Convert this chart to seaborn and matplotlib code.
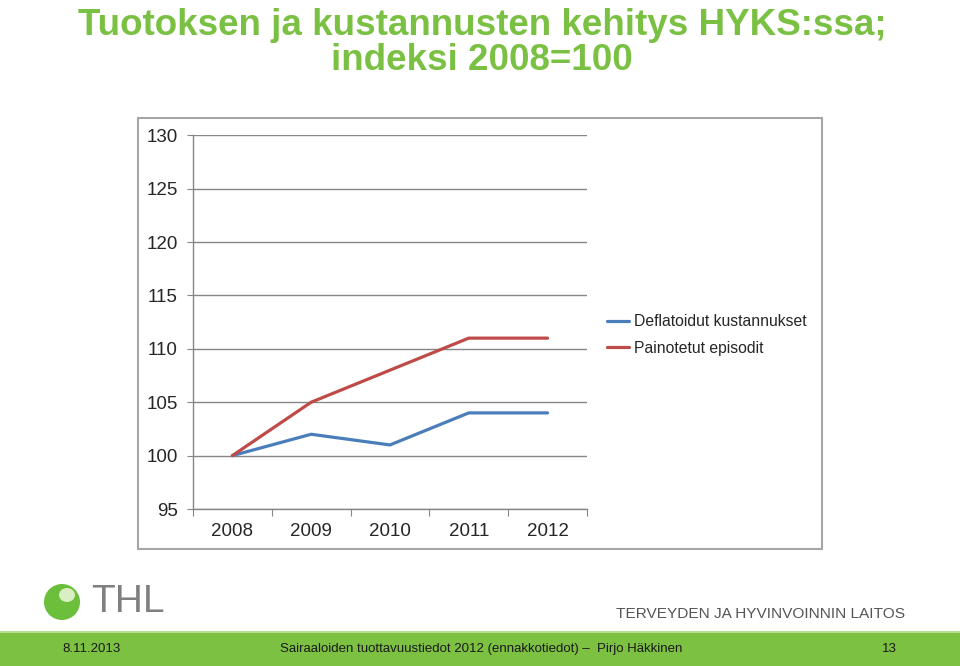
import pandas as pd
import matplotlib.pyplot as plt
import seaborn as sns
from matplotlib.patches import Rectangle, Ellipse

# Datat
vuodet = ['2008', '2009', '2010', '2011', '2012']
kustannukset = [100, 102, 101, 104, 104]
episodit = [100, 105, 108, 111, 111]
sarjat = ['Deflatoidut kustannukset', 'Painotetut episodit']
y_ticks = [95, 100, 105, 110, 115, 120, 125, 130]

df = pd.DataFrame({
    'vuosi': vuodet * 2,
    'indeksi': kustannukset + episodit,
    'sarja': [sarjat[0]] * len(vuodet) + [sarjat[1]] * len(vuodet),
})

sns.set_style('white')
plt.rcParams['font.family'] = ['Liberation Sans', 'DejaVu Sans']

vihrea = '#7ac143'
W, H = 960, 666
fig = plt.figure(figsize=(9.6, 6.66), dpi=100)
ax = fig.add_axes([0.201, 0.2357, 0.4104, 0.5613])

sns.lineplot(data=df, x='vuosi', y='indeksi', hue='sarja', sort=False,
             palette=['#4a7ebb', '#be4b48'], linewidth=2.3, ax=ax)

ax.set_xlim(-0.5, 4.5)
ax.set_ylim(95, 130)
ax.set_yticks(y_ticks)
ax.set_yticklabels([str(v) for v in y_ticks], fontsize=13.5)
ax.grid(axis='y', color='#868686', linewidth=1)
ax.set_axisbelow(True)

# x-akselin tikit luokkien rajoilla, nimet keskellä
ax.set_xticks([i - 0.5 for i in range(len(vuodet) + 1)])
ax.set_xticklabels([''] * (len(vuodet) + 1))
ax.set_xticks(range(len(vuodet)), minor=True)
ax.set_xticklabels(vuodet, minor=True, fontsize=13.5)
ax.tick_params(axis='x', which='major', length=5, color='#868686', direction='out', bottom=True)
ax.tick_params(axis='x', which='minor', length=0, pad=10)
ax.tick_params(axis='y', length=4.5, color='#868686', direction='out', left=True, pad=6.3)
ax.set_xlabel('')
ax.set_ylabel('')

for s in ['top', 'right']:
    ax.spines[s].set_visible(False)
for s in ['left', 'bottom']:
    ax.spines[s].set_color('#868686')
    ax.spines[s].set_linewidth(1)

ax.legend(loc='center left', bbox_to_anchor=(0.632, 0.497), bbox_transform=fig.transFigure,
          frameon=False, borderaxespad=0, borderpad=0, fontsize=11.3,
          handlelength=1.45, handletextpad=0.3, labelspacing=0.75)

# kaavion kehys
fig.patches.append(Rectangle((0.1437, 0.1757), 0.7126, 0.6471, transform=fig.transFigure,
                             fill=False, edgecolor='#a6a6a6', linewidth=1.5))

# otsikko
fig.text(0.502, 1 - 35 / H, 'Tuotoksen ja kustannusten kehitys HYKS:ssa;', ha='center', va='baseline',
         fontsize=26.5, fontweight='bold', color=vihrea)
fig.text(0.502, 1 - 70 / H, 'indeksi 2008=100', ha='center', va='baseline',
         fontsize=26.5, fontweight='bold', color=vihrea)

# THL logo ja teksti
fig.patches.append(Ellipse((62 / W, 1 - 602 / H), 36 / W, 36 / H, transform=fig.transFigure,
                           facecolor='#6cbf3a', edgecolor='none'))
fig.patches.append(Ellipse((67 / W, 1 - 595 / H), 16 / W, 14 / H, transform=fig.transFigure,
                           facecolor='#d8efc4', edgecolor='none'))
fig.text(91 / W, 1 - 602 / H, 'THL', ha='left', va='center', fontsize=28, color='#7f7f7f')
fig.text(905 / W, 1 - 614 / H, 'TERVEYDEN JA HYVINVOINNIN LAITOS', ha='right', va='center',
         fontsize=11.1, color='#555555')

# alapalkki
fig.patches.append(Rectangle((0, 0), 1, 0.049, transform=fig.transFigure,
                             facecolor='#7dc142', edgecolor='none'))
fig.patches.append(Rectangle((0, 0.049), 1, 0.003, transform=fig.transFigure,
                             facecolor='#b5dc93', edgecolor='none'))
fig.text(62 / W, 0.025, '8.11.2013', ha='left', va='center', fontsize=9.5, color='#1a1a1a')
fig.text(481 / W, 0.025, 'Sairaaloiden tuottavuustiedot 2012 (ennakkotiedot) \u2013  Pirjo Häkkinen',
         ha='center', va='center', fontsize=9.5, color='#1a1a1a')
fig.text(897 / W, 0.025, '13', ha='right', va='center', fontsize=9.5, color='#1a1a1a')

fig.savefig('out.png', dpi=100)
